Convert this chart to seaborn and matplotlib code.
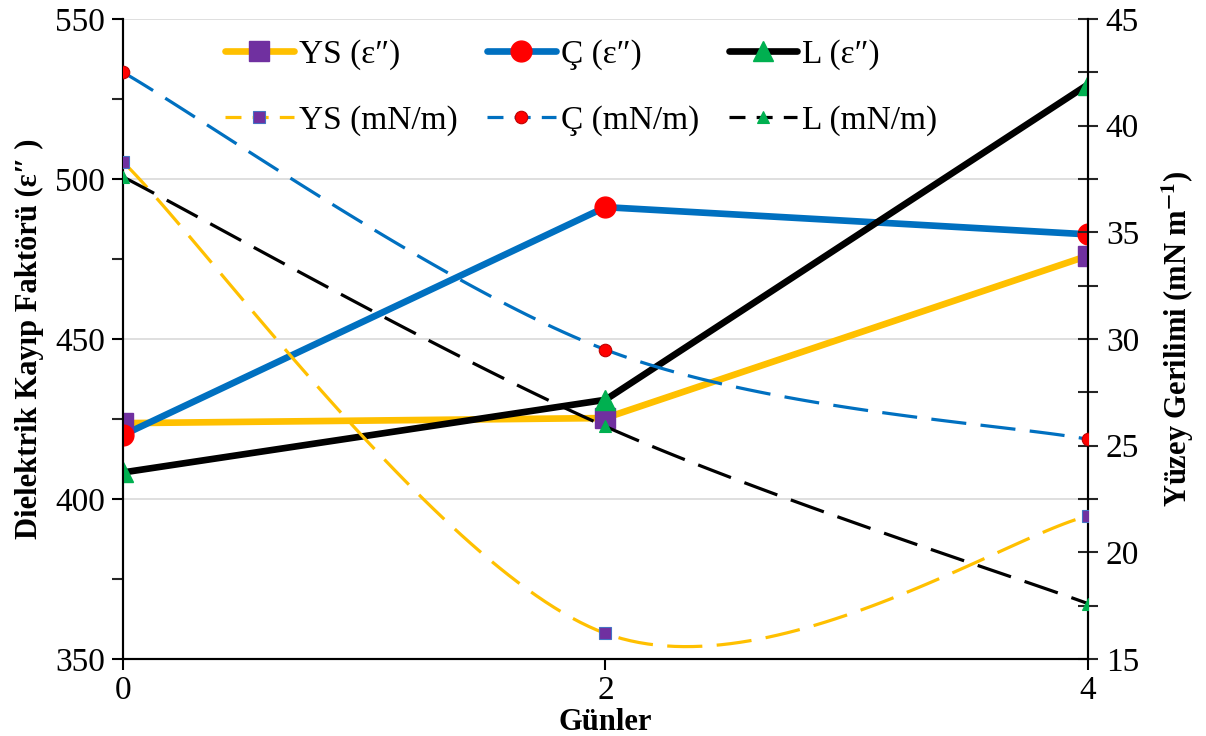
import numpy as np
import pandas as pd
import matplotlib
matplotlib.use("Agg")
import matplotlib.pyplot as plt
import seaborn as sns
from matplotlib.ticker import MultipleLocator
from matplotlib.lines import Line2D

sns.set_theme(style="white")
plt.rcParams['font.family'] = ['Liberation Serif', 'DejaVu Serif']
plt.rcParams['mathtext.fontset'] = 'stix'

days = [0, 2, 4]
ys_eps = [423.7, 425.3, 476.0]
c_eps = [420.0, 491.2, 482.7]
l_eps = [408.3, 431.0, 529.5]
ys_st = [38.3, 16.2, 21.7]
c_st = [42.5, 29.5, 25.3]
l_st = [37.6, 25.9, 17.6]


def excel_smooth(x, y, n=60):
    pts = np.column_stack([x, y]).astype(float)
    P = np.vstack([pts[0], pts, pts[-1]])
    out = []
    t = np.linspace(0, 1, n)[:, None]
    for i in range(len(pts) - 1):
        p0, p1, p2, p3 = P[i], P[i + 1], P[i + 2], P[i + 3]
        c1 = p1 + (p2 - p0) / 6
        c2 = p2 - (p3 - p1) / 6
        seg = ((1 - t) ** 3) * p1 + 3 * ((1 - t) ** 2) * t * c1 + 3 * (1 - t) * t ** 2 * c2 + t ** 3 * p2
        out.append(seg if i == 0 else seg[1:])
    s = np.vstack(out)
    return s[:, 0], s[:, 1]


fig = plt.figure(figsize=(12.06, 7.36), dpi=100)
ax = fig.add_axes([0.102, 0.1046, 0.8, 0.8696])
ax2 = ax.twinx()

GOLD, PURPLE = '#FFC000', '#7030A0'
BLUE, RED = '#0070C0', '#FF0000'
BLACK, GREEN = '#000000', '#00B050'
DASH = (11, 4.5)

solid = [(ys_eps, GOLD, PURPLE, 's', 'YS (ε″)'),
         (c_eps, BLUE, RED, 'o', 'Ç (ε″)'),
         (l_eps, BLACK, GREEN, '^', 'L (ε″)')]
dashed = [(ys_st, GOLD, PURPLE, 's', 'YS (mN/m)', '#4472C4'),
          (c_st, BLUE, RED, 'o', 'Ç (mN/m)', '#C00000'),
          (l_st, BLACK, GREEN, '^', 'L (mN/m)', GREEN)]

handles = []
for vals, lc, mc, mk, lab in solid:
    df = pd.DataFrame({'x': days, 'y': vals})
    sns.lineplot(data=df, x='x', y='y', ax=ax, color=lc, lw=4.8, zorder=3)
    ax.plot(df['x'], df['y'], ls='none', marker=mk, ms=15, mfc=mc, mec=mc, zorder=4)
    handles.append(Line2D([], [], color=lc, lw=4.8, marker=mk, ms=15, mfc=mc, mec=mc, label=lab))

dhandles = []
for vals, lc, mc, mk, lab, ec in dashed:
    sx, sy = excel_smooth(days, vals)
    dfc = pd.DataFrame({'x': sx, 'y': sy})
    sns.lineplot(data=dfc, x='x', y='y', ax=ax2, color=lc, lw=2.3, sort=False,
                 zorder=3).lines[-1].set_dashes(DASH)
    ax2.plot(days, vals, ls='none', marker=mk, ms=9, mfc=mc, mec=ec, mew=0.8, zorder=4)
    dhandles.append(Line2D([], [], color=lc, lw=2.3, ls=(0, (5, 3.5)), marker=mk, ms=9,
                           mfc=mc, mec=ec, mew=0.8, label=lab))

ax.set_xlim(0, 4)
ax.set_ylim(350, 550)
ax2.set_ylim(15, 45)
ax.set_xticks([0, 2, 4])
ax.yaxis.set_major_locator(MultipleLocator(50))
ax.yaxis.set_minor_locator(MultipleLocator(25))
ax2.yaxis.set_major_locator(MultipleLocator(5))
ax2.yaxis.set_minor_locator(MultipleLocator(2.5))

ax.grid(axis='y', color='#D9D9D9', lw=1.2)
ax.set_axisbelow(True)
for a in (ax, ax2):
    a.spines['top'].set_visible(False)
    for s in ('left', 'right', 'bottom'):
        a.spines[s].set_color('black')
        a.spines[s].set_linewidth(1.5)

ax.tick_params(axis='both', which='major', labelsize=24, direction='out', length=8,
               width=1.5, color='black', left=True, bottom=True, pad=5, labelcolor='black')
ax.tick_params(axis='x', which='major', pad=4)
ax.tick_params(axis='y', which='minor', direction='out', length=8, width=1.5, left=True)
ax2.tick_params(axis='y', which='major', labelsize=24, direction='inout', length=14,
                width=1.5, right=True, pad=6, labelcolor='black')
ax2.tick_params(axis='y', which='minor', direction='inout', length=14, width=1.5, right=True)

ax.set_xlabel('Günler', fontsize=22, fontweight='bold', labelpad=1, color='black')
ax.set_ylabel('Dielektrik Kayıp Faktörü (ε″ )', fontsize=22, fontweight='bold', labelpad=8,
              color='black')
ax2.set_ylabel(r'Yüzey Gerilimi (mN m$^{\mathbf{-1}}$)', fontsize=22, fontweight='bold',
               labelpad=14, color='black')

order = [handles[0], dhandles[0], handles[1], dhandles[1], handles[2], dhandles[2]]
leg = ax2.legend(handles=order, ncol=3, loc='upper center', bbox_to_anchor=(0.475, 1.005),
                 frameon=False, fontsize=24, handlelength=2.05, labelspacing=1.05,
                 columnspacing=0.9, handletextpad=0.15, borderpad=0.2)
for t in leg.get_texts():
    t.set_color('black')

fig.savefig('out.png', dpi=100)
